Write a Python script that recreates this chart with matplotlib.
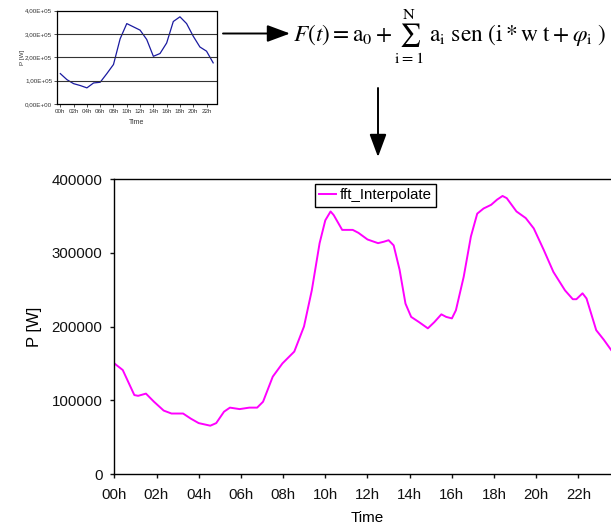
"""FFT interpolation of a daily load profile (recreated figure)."""

import matplotlib
matplotlib.use("Agg")
import matplotlib.pyplot as plt
from matplotlib.patches import FancyArrowPatch

W, H, DPI = 611, 526, 100

# --- measured hourly profile (small inset) ---
hours_raw = list(range(24))
power_raw = [130000, 104000, 87000, 79000, 69000, 90000, 93000, 130000,
             169000, 279000, 344000, 330000, 316000, 276000, 204000, 216000,
             261000, 353000, 373000, 344000, 290000, 244000, 226000, 176000]
raw_ticks = list(range(0, 24, 2))
raw_tick_labels = [f"{h:02d}h" for h in raw_ticks]
raw_yticks = [0, 100000, 200000, 300000, 400000]
raw_ytick_labels = ["0,00E+00", "1,00E+05", "2,00E+05", "3,00E+05", "4,00E+05"]

# --- fft interpolated curve (main chart) ---
hours_fft = [0.0, 0.4, 0.95, 1.13, 1.5, 1.88, 2.34, 2.71, 3.26, 3.63, 4.0,
             4.55, 4.83, 5.2, 5.48, 5.94, 6.4, 6.77, 7.05, 7.51, 7.97, 8.53,
             8.99, 9.36, 9.73, 10.0, 10.25, 10.4, 10.8, 11.3, 11.57, 12.0,
             12.5, 12.78, 13.0, 13.24, 13.52, 13.8, 14.07, 14.44, 14.86,
             15.17, 15.5, 15.73, 16.0, 16.19, 16.56, 16.9, 17.2, 17.5, 17.86,
             18.14, 18.4, 18.6, 19.06, 19.5, 19.88, 20.35, 20.81, 21.36,
             21.73, 21.9, 22.19, 22.38, 22.84, 23.2, 23.55, 23.8]
power_fft = [150000, 141000, 107000, 106000, 109000, 98000, 86000, 82000,
             82000, 75000, 69000, 65500, 69000, 84500, 90000, 88000, 90000,
             90000, 98000, 132000, 150000, 166000, 200000, 249000, 313000,
             344000, 356000, 351000, 331000, 331000, 327000, 318000, 313000,
             315000, 317000, 310000, 277000, 231000, 213000, 206000, 197500,
             206000, 216500, 213000, 211000, 222000, 267500, 322000, 353000,
             360000, 365000, 372000, 377000, 374000, 356000, 347000, 333000,
             304000, 274000, 249000, 237000, 237000, 245000, 238000, 195000,
             182000, 168000, 160000]
main_ticks = list(range(0, 24, 2))
main_tick_labels = [f"{h:02d}h" for h in main_ticks]
main_yticks = [0, 100000, 200000, 300000, 400000]

plt.rcParams.update({
    "font.family": ["Liberation Sans", "DejaVu Sans"],
    "mathtext.fontset": "stix",
})


def px_rect(left, top, right, bottom):
    """Pixel box (top-left origin) -> figure fraction rect."""
    return [left / W, 1 - bottom / H, (right - left) / W, (bottom - top) / H]


fig = plt.figure(figsize=(W / DPI, H / DPI), dpi=DPI)
fig.patch.set_facecolor("white")

# --- inset: raw measurements ---
ax_in = fig.add_axes(px_rect(57, 10.5, 216.5, 104))
ax_in.plot(hours_raw, power_raw, color="#1a1aa0", linewidth=0.9)
ax_in.set_xlim(-0.5, 23.5)
ax_in.set_ylim(0, 400000)
ax_in.set_yticks(raw_yticks)
ax_in.set_yticklabels(raw_ytick_labels)
ax_in.set_xticks(raw_ticks)
ax_in.set_xticklabels(raw_tick_labels)
ax_in.tick_params(labelsize=4.5, length=2, width=0.6, pad=1.5,
                  colors="#333333")
for y in raw_yticks[1:-1]:
    ax_in.axhline(y, color="#333333", linewidth=0.8)
for s in ax_in.spines.values():
    s.set_linewidth(0.9)
ax_in.set_ylabel("P [W]", fontsize=4.5, color="#333333")
ax_in.set_xlabel("Time", fontsize=5, color="#333333")
ax_in.yaxis.set_label_coords(-0.2, 0.5)
ax_in.xaxis.set_label_coords(0.5, -0.16)

# --- formula and arrows ---
fig.text(293 / W, 1 - 36 / H,
         r"$F(t) = \mathrm{a}_0 + \sum_{\mathrm{i}=1}^{\mathrm{N}}"
         r"\ \mathrm{a}_{\mathrm{i}}\ \mathrm{sen}\ (\mathrm{i} * \mathrm{w}"
         r"\ \mathrm{t} + \varphi_{\mathrm{i}}\ )$",
         fontsize=16.8, ha="left", va="center")

arrow_kw = dict(arrowstyle="-|>,head_length=14,head_width=5.2",
                mutation_scale=1, color="black", linewidth=1.4,
                transform=None, shrinkA=0, shrinkB=0)
fig.add_artist(FancyArrowPatch((223, H - 33.5), (290, H - 33.5), **arrow_kw))
fig.add_artist(FancyArrowPatch((378, H - 88), (378, H - 157), **arrow_kw))

# --- main chart: fft interpolation ---
ax = fig.add_axes(px_rect(114.3, 179, 620.7, 474))
ax.plot(hours_fft, power_fft, color="#ff00ff", linewidth=1.4,
        label="fft_Interpolate", solid_joinstyle="round")
ax.set_xlim(0, 24)
ax.set_ylim(0, 400000)
ax.set_xticks(main_ticks)
ax.set_xticklabels(main_tick_labels)
ax.set_yticks(main_yticks)
ax.set_yticklabels([str(v) for v in main_yticks])
ax.tick_params(labelsize=10.8, length=3, width=1, colors="#111111")
ax.tick_params(axis="x", pad=7)
ax.tick_params(axis="y", pad=5.5)
for s in ax.spines.values():
    s.set_linewidth(1)
ax.set_ylabel("P [W]", fontsize=12)
ax.set_xlabel("Time", fontsize=11, va="bottom")
ax.yaxis.set_label_coords(-0.143, 0.5)
ax.xaxis.set_label_coords(0.5, -0.174)

ax.legend(loc="upper left",
          bbox_to_anchor=(314.7 / W, 1 - 184 / H),
          bbox_transform=fig.transFigure,
          fontsize=10.8, frameon=True, fancybox=False, framealpha=1,
          edgecolor="black", handlelength=1.1, handletextpad=0.25,
          borderpad=0.3, borderaxespad=0)
ax.get_legend().get_frame().set_linewidth(1)

fig.savefig("out.png", dpi=DPI)
